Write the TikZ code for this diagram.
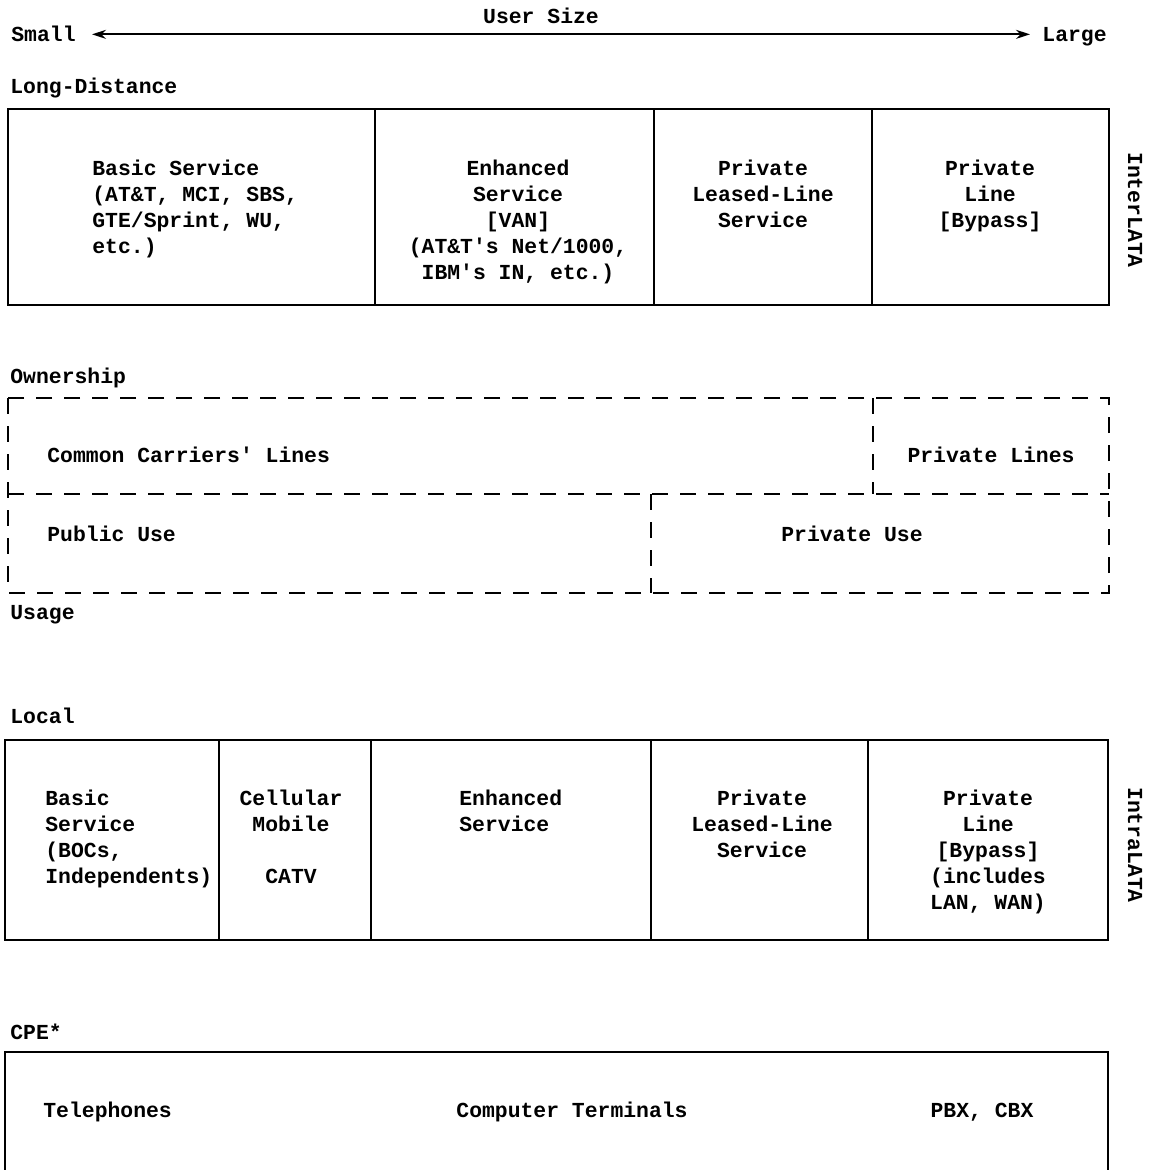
\documentclass[tikz,border=0pt]{standalone}
\usepackage{fontspec}
\setmonofont{Liberation Mono}
\usetikzlibrary{arrows.meta,positioning}
\tikzset{lbl/.style={font=\ttfamily\bfseries\fontsize{10.7}{13}\selectfont,inner sep=0pt,align=left},txt/.style={lbl,anchor=north},txtc/.style={txt,align=center},cell/.style={draw,line width=1.1pt,inner sep=0pt,outer sep=0pt},dcell/.style={inner sep=0pt,outer sep=0pt},dline/.style={line width=1pt,dash pattern=on 8pt off 6pt},arr/.style={{Stealth[length=7pt,width=4.5pt]}-{Stealth[length=7pt,width=4.5pt]},line width=1pt,shorten <=8pt,shorten >=6pt}}

\begin{document}
\begin{tikzpicture}[x=0.5pt,y=-0.5pt]
\useasboundingbox (0,0) rectangle (1148,1170);
\clip (0,0) rectangle (1148,1170);
% user size scale
\node[lbl,anchor=base] (usize) at (541,24) {User Size};
\node[lbl,anchor=base west] (small) at (11,42) {Small};
\node[lbl,anchor=base west] (large) at (1042,42) {Large};
\draw[arr] (small.east)--(small.east-|large.west);
% long-distance row
\node[lbl,anchor=base west] (ldlbl) at (10,94) {Long-Distance};
\node[cell,minimum width=183.5pt,minimum height=98pt,anchor=north west] (ldA) at (8,109) {};
\node[cell,minimum width=139.5pt,minimum height=98pt,right=0pt of ldA] (ldB) {};
\node[cell,minimum width=109pt,minimum height=98pt,right=0pt of ldB] (ldC) {};
\node[cell,minimum width=118.5pt,minimum height=98pt,right=0pt of ldC] (ldD) {};
\node[txt,anchor=north west] (ldAt) at (92,160) {Basic Service\\(AT\&T, MCI, SBS,\\GTE/Sprint, WU,\\etc.)};
\node[txtc] (ldBt) at (518,160) {Enhanced\\Service\\{[VAN]}\\(AT\&T's Net/1000,\\IBM's IN, etc.)};
\node[txtc] (ldCt) at (763,160) {Private\\Leased-Line\\Service};
\node[txtc] (ldDt) at (990,160) {Private\\Line\\{[Bypass]}};
\node[lbl,rotate=-90] (inter) at (1135,210) {InterLATA};
% ownership / usage
\node[lbl,anchor=base west] (ownlbl) at (10,384) {Ownership};
\node[dcell,minimum width=432.5pt,minimum height=48pt,anchor=north west] (ccl) at (8,398) {};
\node[dcell,minimum width=118pt,minimum height=48pt,right=0pt of ccl] (pl) {};
\node[dcell,minimum width=321.5pt,minimum height=49.5pt,below right=0pt of ccl.south west] (pub) {};
\node[dcell,minimum width=229pt,minimum height=49.5pt,right=0pt of pub] (priv) {};
\draw[dline] (ccl.north west) rectangle (priv.south east);
\draw[dline] (pub.north west)--(priv.north east);
\draw[dline] (pl.north west)--(pl.south west);
\draw[dline] (priv.north west)--(priv.south west);
\node[lbl,anchor=base west] (cclt) at (47,462) {Common Carriers' Lines};
\node[lbl,anchor=base] (plt) at (991,462) {Private Lines};
\node[lbl,anchor=base west] (pubt) at (47,541) {Public Use};
\node[lbl,anchor=base] (privt) at (852,541) {Private Use};
\node[lbl,anchor=base west] (uselbl) at (10,619) {Usage};
% local row
\node[lbl,anchor=base west] (loclbl) at (10,723) {Local};
\node[cell,minimum width=107pt,minimum height=100pt,anchor=north west] (lcA) at (5,740) {};
\node[cell,minimum width=76pt,minimum height=100pt,right=0pt of lcA] (lcB) {};
\node[cell,minimum width=140pt,minimum height=100pt,right=0pt of lcB] (lcC) {};
\node[cell,minimum width=108.5pt,minimum height=100pt,right=0pt of lcC] (lcD) {};
\node[cell,minimum width=120pt,minimum height=100pt,right=0pt of lcD] (lcE) {};
\node[txt,anchor=north west] (lcAt) at (45,790) {Basic\\Service\\(BOCs,\\Independents)};
\node[txtc] (lcBt) at (291,790) {Cellular\\Mobile\\[13pt]CATV};
\node[txt,anchor=north west] (lcCt) at (459,790) {Enhanced\\Service};
\node[txtc] (lcDt) at (762,790) {Private\\Leased-Line\\Service};
\node[txtc] (lcEt) at (988,790) {Private\\Line\\{[Bypass]}\\(includes\\LAN, WAN)};
\node[lbl,rotate=-90] (intra) at (1135,845) {IntraLATA};
% customer premises equipment
\node[lbl,anchor=base west] (cpelbl) at (10,1039) {CPE*};
\node[cell,minimum width=551.5pt,minimum height=80pt,anchor=north west] (cpe) at (5,1052) {};
\node[lbl,anchor=base west] (telt) at (43,1117) {Telephones};
\node[lbl,anchor=base] (compt) at (572,1117) {Computer Terminals};
\node[lbl,anchor=base] (pbxt) at (982,1117) {PBX, CBX};
\end{tikzpicture}
\end{document}
